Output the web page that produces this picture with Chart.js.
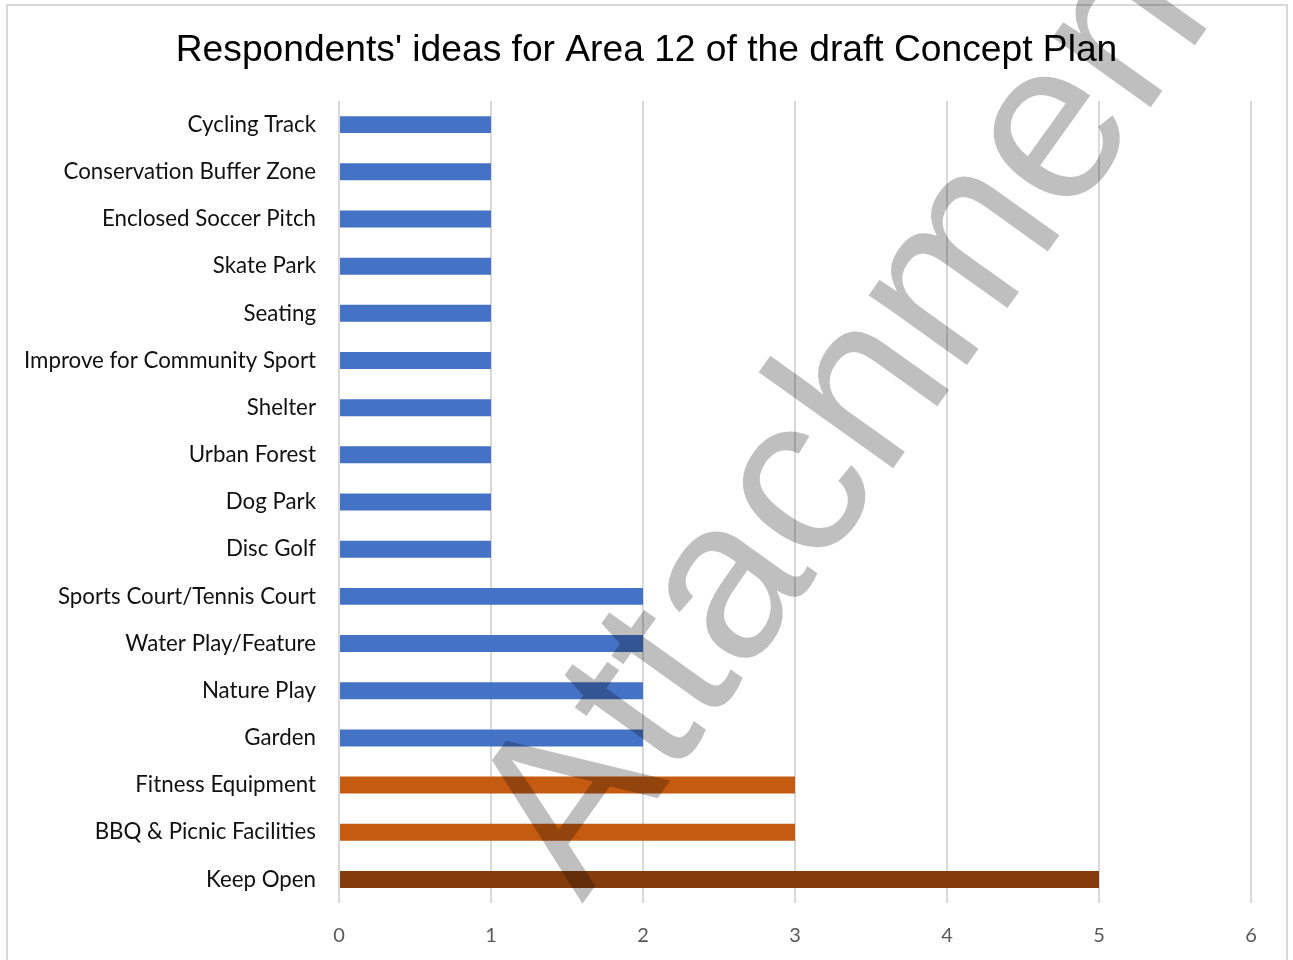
<!DOCTYPE html>
<html>
<head>
<meta charset="utf-8">
<script src="https://cdn.jsdelivr.net/npm/chart.js@4.4.1/dist/chart.umd.min.js"></script>
<style>
  html, body { margin: 0; padding: 0; background: #fff; }
  #wrap { position: relative; width: 1293px; height: 960px; }
  canvas { display: block; }
</style>
</head>
<body>
<div id="wrap"><canvas id="c" width="1293" height="960"></canvas></div>
<script>
// Ideas raised by respondents for Area 12, with number of mentions
const categories = [
  'Cycling Track', 'Conservation Buffer Zone', 'Enclosed Soccer Pitch', 'Skate Park',
  'Seating', 'Improve for Community Sport', 'Shelter', 'Urban Forest', 'Dog Park',
  'Disc Golf', 'Sports Court/Tennis Court', 'Water Play/Feature', 'Nature Play',
  'Garden', 'Fitness Equipment', 'BBQ & Picnic Facilities', 'Keep Open'
];
const responses = [1, 1, 1, 1, 1, 1, 1, 1, 1, 1, 2, 2, 2, 2, 3, 3, 5];
const BLUE = '#4472C4', ORANGE = '#C55A11', BROWN = '#843C0C';
const barColours = [
  BLUE, BLUE, BLUE, BLUE, BLUE, BLUE, BLUE, BLUE, BLUE, BLUE,
  BLUE, BLUE, BLUE, BLUE, ORANGE, ORANGE, BROWN
];
const xTickValues = [0, 1, 2, 3, 4, 5, 6];
const titleText = "Respondents' ideas for Area 12 of the draft Concept Plan";
const watermarkText = 'Attachment';

// Frame around the chart and the diagonal watermark over it
const framePlugin = {
  id: 'frame',
  beforeDraw(chart) {
    const ctx = chart.ctx;
    ctx.save();
    ctx.strokeStyle = '#d9d9d9';
    ctx.lineWidth = 2;
    ctx.strokeRect(7, 5, 1280, 980);
    ctx.restore();
  },
  afterDraw(chart) {
    const ctx = chart.ctx;
    ctx.save();
    ctx.translate(866, 398);
    ctx.rotate(-54.5 * Math.PI / 180);
    ctx.font = '228px "Liberation Sans", Arial, sans-serif';
    ctx.textAlign = 'center';
    ctx.textBaseline = 'middle';
    ctx.fillStyle = 'rgba(0,0,0,0.25)';
    ctx.fillText(watermarkText, 0, 0);
    ctx.restore();
  }
};

new Chart(document.getElementById('c'), {
  type: 'bar',
  data: {
    labels: categories,
    datasets: [{
      data: responses,
      backgroundColor: barColours,
      borderWidth: 0,
      barPercentage: 0.36,
      categoryPercentage: 1
    }]
  },
  options: {
    indexAxis: 'y',
    responsive: false,
    animation: false,
    devicePixelRatio: 1,
    layout: { padding: 0 },
    plugins: {
      legend: { display: false },
      tooltip: { enabled: false },
      title: {
        display: true,
        text: titleText,
        color: '#000',
        font: { family: '"Liberation Sans", Arial, sans-serif', size: 37.2, weight: 'normal', lineHeight: 1.2 },
        padding: { top: 28.7, bottom: 27.7 }
      }
    },
    scales: {
      x: {
        min: 0,
        max: 6,
        afterBuildTicks(scale) { scale.ticks = xTickValues.map(v => ({ value: v })); },
        afterFit(scale) { scale.height = 57; scale.paddingRight = 42; },
        grid: { color: '#d9d9d9', lineWidth: 2, drawTicks: false },
        border: { display: false },
        ticks: {
          color: '#595959',
          padding: 21,
          font: { family: 'Lato, "Open Sans", sans-serif', size: 20 }
        }
      },
      y: {
        afterFit(scale) { scale.width = 339; },
        grid: { display: false, drawTicks: false },
        border: { display: false },
        ticks: {
          color: '#111',
          padding: 23,
          autoSkip: false,
          font: { family: 'Lato, "Open Sans", sans-serif', size: 22.3 }
        }
      }
    }
  },
  plugins: [framePlugin]
});
</script>
</body>
</html>
